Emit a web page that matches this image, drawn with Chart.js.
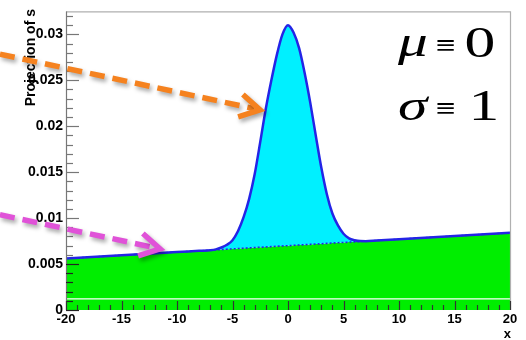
<!DOCTYPE html>
<html>
<head>
<meta charset="utf-8">
<script src="https://cdn.jsdelivr.net/npm/chart.js@4/dist/chart.umd.min.js"></script>
<style>
html,body{margin:0;padding:0;background:#fff;}
#wrap{width:526px;height:340px;}
</style>
</head>
<body>
<div id="wrap"><canvas id="c" width="526" height="340"></canvas></div>
<script>
// ---- data ----
const xs = [-20,-15,-10,-8,-7,-6.5,-6,-5.5,-5,-4.5,-4,-3.5,-3,-2.5,-2,-1.5,-1,-0.5,0,0.5,1,1.5,2,2.5,3,3.5,4,4.5,5,5.5,6,6.5,7,8,10,15,20];
const totalPdf = [0.0056,0.00595,0.0063,0.00644,0.00651,0.0066,0.0068,0.0071,0.0076,0.0086,0.0101,0.0121,0.0148,0.0183,0.0219,0.0250,0.0278,0.0300,0.0310,0.0302,0.0285,0.0258,0.0226,0.0190,0.0155,0.0126,0.0105,0.0092,0.0083,0.0078,0.0076,0.0075,0.00749,0.00756,0.0077,0.00805,0.0084];
const backgroundPdf = [0.0056,0.00595,0.0063,0.00644,0.00651,0.00655,0.00658,0.00662,0.00665,0.00669,0.00672,0.00676,0.00679,0.00683,0.00686,0.0069,0.00693,0.00697,0.0070,0.00704,0.00707,0.00711,0.00714,0.00718,0.00721,0.00725,0.00728,0.00732,0.00735,0.00739,0.00742,0.00746,0.00749,0.00756,0.0077,0.00805,0.0084];
const whiteLineX = [-20, 20];
const whiteLineY = [0.0012, 0.0012];
const xTickValues = [-20,-15,-10,-5,0,5,10,15,20];
const xTickLabels = ['-20','-15','-10','-5','0','5','10','15','20'];
const yTickValues = [0,0.005,0.01,0.015,0.02,0.025,0.03];
const yTickLabels = ['0','0.005','0.01','0.015','0.02','0.025','0.03'];
const yAxisTitle = 'Projection of s';
const xAxisTitle = 'x';
// arrows in data coordinates: [x0,y0,x1,y1]
const orangeArrow = [-25.95, 0.02785, -2.52, 0.02178];
const pinkArrow = [-25.95, 0.01037, -11.53, 0.00666];

const toPts = (X, Y) => X.map((x, i) => ({x: x, y: Y[i]}));

const frameAndDecor = {
  id: 'decor',
  afterDatasetsDraw(chart) {
    const ctx = chart.ctx;
    const xs_ = chart.scales.x, ys_ = chart.scales.y;
    const a = chart.chartArea;
    ctx.save();
    // frame (top & right)
    ctx.strokeStyle = '#b0b0b0';
    ctx.lineWidth = 1.2;
    ctx.beginPath();
    ctx.moveTo(a.left, a.top + 0.5); ctx.lineTo(a.right + 0.5, a.top + 0.5); ctx.lineTo(a.right + 0.5, a.bottom);
    ctx.stroke();
    // y axis line
    ctx.strokeStyle = '#777';
    ctx.lineWidth = 1.2;
    ctx.beginPath();
    ctx.moveTo(a.left + 0.5, a.top); ctx.lineTo(a.left + 0.5, a.bottom);
    ctx.stroke();
    // y ticks (inward)
    for (let k = 0; k <= 32; k++) {
      const v = k * 0.001;
      const py = Math.round(ys_.getPixelForValue(v)) + 0.5;
      const len = (k % 5 === 0) ? 13 : 7;
      ctx.strokeStyle = (py > chart.scales.y.getPixelForValue(0.0058)) ? '#222' : '#777';
      ctx.beginPath(); ctx.moveTo(a.left, py); ctx.lineTo(a.left + len, py); ctx.stroke();
    }
    // x ticks (inward)
    ctx.strokeStyle = '#333';
    for (let k = -20; k <= 20; k++) {
      const px = Math.round(xs_.getPixelForValue(k)) + 0.5;
      const len = (k % 5 === 0) ? 9 : 5;
      ctx.beginPath(); ctx.moveTo(px, a.bottom); ctx.lineTo(px, a.bottom - len); ctx.stroke();
    }
    // axis titles
    ctx.fillStyle = '#000';
    ctx.font = 'bold 14px "Liberation Sans", Arial, sans-serif';
    ctx.save();
    ctx.translate(31, 9);
    ctx.rotate(-Math.PI / 2);
    ctx.textAlign = 'right';
    ctx.textBaseline = 'middle';
    ctx.fillText(yAxisTitle, 0, 0);
    ctx.restore();
    ctx.font = 'bold 13px "Liberation Sans", Arial, sans-serif';
    ctx.textAlign = 'right';
    ctx.textBaseline = 'middle';
    ctx.fillText(xAxisTitle, 511, 334);

    // arrows
    const drawArrow = (arr, color) => {
      const x0 = xs_.getPixelForValue(arr[0]), y0 = ys_.getPixelForValue(arr[1]);
      const x1 = xs_.getPixelForValue(arr[2]), y1 = ys_.getPixelForValue(arr[3]);
      const ang = Math.atan2(y1 - y0, x1 - x0);
      ctx.save();
      ctx.shadowColor = 'rgba(0,0,0,0.35)';
      ctx.shadowBlur = 4;
      ctx.shadowOffsetX = 2;
      ctx.shadowOffsetY = 3;
      ctx.strokeStyle = color;
      ctx.lineWidth = 5.5;
      ctx.lineCap = 'butt';
      ctx.setLineDash([15, 8]);
      ctx.beginPath();
      ctx.moveTo(x0, y0);
      ctx.lineTo(x1 - 6 * Math.cos(ang), y1 - 6 * Math.sin(ang));
      ctx.stroke();
      ctx.setLineDash([]);
      ctx.lineJoin = 'miter';
      const L = 23, sp = 0.52;
      ctx.beginPath();
      ctx.moveTo(x1 - L * Math.cos(ang - sp), y1 - L * Math.sin(ang - sp));
      ctx.lineTo(x1, y1);
      ctx.lineTo(x1 - L * Math.cos(ang + sp), y1 - L * Math.sin(ang + sp));
      ctx.stroke();
      ctx.restore();
    };
    drawArrow(orangeArrow, '#f5821f');
    drawArrow(pinkArrow, '#e052d8');

    // annotation text (horizontally stretched)
    const put = (txt, font, x, y, align, base, sx) => {
      ctx.save();
      ctx.translate(x, y);
      ctx.scale(sx, 1);
      ctx.font = font;
      ctx.textAlign = align;
      ctx.textBaseline = base;
      ctx.fillStyle = '#000';
      ctx.fillText(txt, 0, 0);
      ctx.restore();
    };
    const gFont = 'italic 44px "Liberation Serif", "DejaVu Serif", serif';
    const dFont = '44px "Liberation Serif", "DejaVu Serif", serif';
    const eFont = 'bold 26px "Liberation Serif", "DejaVu Serif", serif';
    put('\u03BC', gFont, 398, 56, 'left', 'alphabetic', 1.35);
    put('\u2261', eFont, 446, 47.5, 'center', 'middle', 1.35);
    put('0', dFont, 480, 57, 'center', 'alphabetic', 1.4);
    put('\u03C3', gFont, 398, 120, 'left', 'alphabetic', 1.35);
    put('\u2261', eFont, 446, 110, 'center', 'middle', 1.35);
    put('1', dFont, 484, 120, 'center', 'alphabetic', 1.4);
    ctx.restore();
  }
};

new Chart(document.getElementById('c'), {
  type: 'line',
  data: {
    datasets: [
      {
        label: 'total',
        data: toPts(xs, totalPdf),
        borderColor: '#2424e6',
        borderWidth: 2.5,
        backgroundColor: '#00f0ff',
        fill: 1,
        pointRadius: 0,
        cubicInterpolationMode: 'monotone'
      },
      {
        label: 'background',
        data: toPts(xs, backgroundPdf),
        borderColor: '#2424e6',
        borderWidth: 1.6,
        borderDash: [2, 2],
        backgroundColor: '#00ee00',
        fill: 'origin',
        pointRadius: 0
      },
      {
        label: 'white',
        data: toPts(whiteLineX, whiteLineY),
        borderColor: '#ffffff',
        borderWidth: 1.3,
        fill: false,
        pointRadius: 0
      }
    ]
  },
  options: {
    responsive: false,
    animation: false,
    devicePixelRatio: 1,
    layout: { padding: { top: 9, right: 16, left: 0, bottom: 0 } },
    plugins: {
      legend: { display: false },
      tooltip: { enabled: false },
      filler: { drawTime: 'beforeDatasetsDraw' }
    },
    scales: {
      x: {
        type: 'linear',
        min: -20, max: 20,
        grid: { display: false, drawTicks: false },
        border: { display: false },
        afterBuildTicks: (s) => { s.ticks = xTickValues.map(v => ({ value: v })); },
        afterFit: (s) => { s.height = 30; },
        ticks: {
          autoSkip: false, maxRotation: 0, padding: 2,
          color: '#000',
          font: { family: '"Liberation Sans", Arial, sans-serif', size: 13, weight: 'bold' },
          callback: (v, i) => xTickLabels[i]
        }
      },
      y: {
        type: 'linear',
        min: 0, max: 0.0325,
        grid: { display: false, drawTicks: false },
        border: { display: false },
        afterBuildTicks: (s) => { s.ticks = yTickValues.map(v => ({ value: v })); },
        afterFit: (s) => { s.width = 66; },
        ticks: {
          autoSkip: false, padding: 3,
          color: '#000',
          font: { family: '"Liberation Sans", Arial, sans-serif', size: 14, weight: 'bold' },
          callback: (v, i) => yTickLabels[i]
        }
      }
    }
  },
  plugins: [frameAndDecor]
});
</script>
</body>
</html>
